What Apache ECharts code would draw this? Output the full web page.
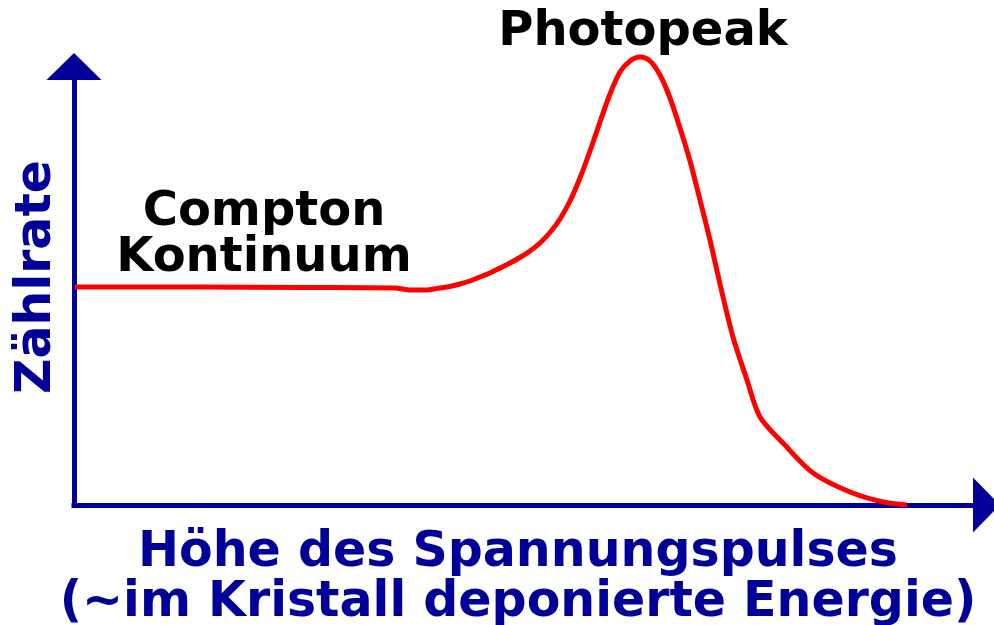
<!DOCTYPE html>
<html>
<head>
<meta charset="utf-8">
<title>Gammaspektrum</title>
<script src="https://cdn.jsdelivr.net/npm/echarts@6/dist/echarts.min.js"></script>
<style>
  html, body { margin: 0; padding: 0; background: #ffffff; }
  #chart { width: 994px; height: 625px; }
</style>
</head>
<body>
<div id="chart"></div>
<script>
// Pulse height (arbitrary units) and count rate of a typical gamma spectrum
const pulseHeight = [1, 126, 226, 321, 336, 351, 366, 376, 386, 396, 406, 416, 426, 436, 446, 456, 466, 476, 486, 496, 506, 516, 526, 536, 546, 556, 566, 576, 586, 596, 606, 616, 626, 636, 646, 659, 673, 686, 709, 739, 776, 809, 833];
const countRate   = [218, 218, 217.5, 217, 215, 215, 217, 218.5, 221, 224, 228, 232, 237, 242, 247.5, 254, 262, 272.5, 286, 304, 327, 354, 383, 411, 433, 444, 448, 444, 430, 407, 377, 344, 305, 265, 221, 168, 125, 88, 62, 32, 13, 3, 0];

const xMax = 899;
const yMax = 425;

const axisBlue = '#000099';
const fontFamily = '"DejaVu Sans", "Liberation Sans", sans-serif';

const curve = pulseHeight.map((x, i) => [x, countRate[i]]);

const axisCommon = {
  type: 'value',
  axisTick: { show: false },
  axisLabel: { show: false },
  splitLine: { show: false },
  axisLine: {
    show: true,
    symbol: ['none', 'triangle'],
    symbolSize: [55, 27],
    symbolOffset: [0, 13.5],
    lineStyle: { color: axisBlue, width: 5, cap: 'square' }
  }
};

const chart = echarts.init(document.getElementById('chart'), null, { renderer: 'canvas' });

chart.setOption({
  animation: false,
  backgroundColor: '#ffffff',
  grid: { left: 74, right: 21, top: 80, bottom: 120, containLabel: false, outerBoundsMode: 'none' },
  xAxis: Object.assign({}, axisCommon, { min: 0, max: xMax }),
  yAxis: Object.assign({}, axisCommon, { min: 0, max: yMax }),
  series: [{
    type: 'line',
    data: curve,
    smooth: 0.3,
    symbol: 'none',
    clip: false,
    lineStyle: { color: '#ff0000', width: 5 },
    z: 1
  }],
  graphic: [
    {
      type: 'text', x: 643, y: 33,
      style: { text: 'Photopeak', font: 'bold 48px ' + fontFamily, fill: '#000000', align: 'center', verticalAlign: 'middle' }
    },
    {
      type: 'text', x: 264, y: 236,
      style: { text: 'Compton\nKontinuum', font: 'bold 48px ' + fontFamily, lineHeight: 46, fill: '#000000', align: 'center', verticalAlign: 'middle' }
    },
    {
      type: 'text', x: 518, y: 578,
      style: { text: 'Höhe des Spannungspulses\n(~im Kristall deponierte Energie)', font: 'bold 49px ' + fontFamily, lineHeight: 50, fill: axisBlue, align: 'center', verticalAlign: 'middle' }
    },
    {
      type: 'text', x: 37.5, y: 277, rotation: Math.PI / 2,
      style: { text: 'Zählrate', font: 'bold 49px ' + fontFamily, fill: axisBlue, align: 'center', verticalAlign: 'middle' }
    }
  ]
});
</script>
</body>
</html>
